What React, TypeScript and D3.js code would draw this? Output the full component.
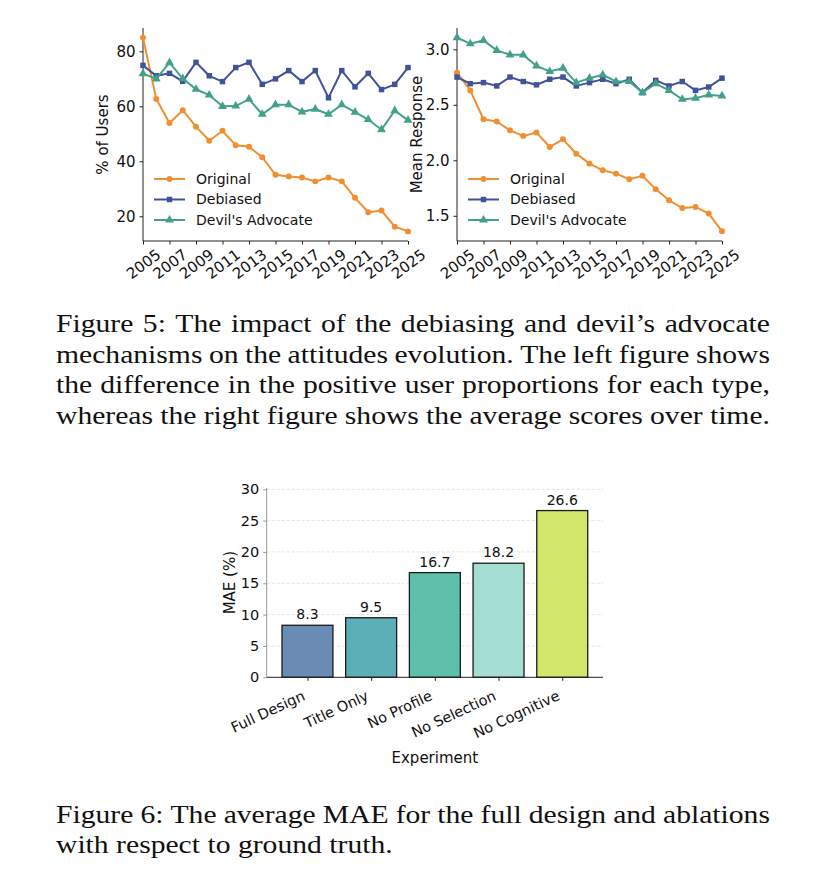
import { useEffect, useRef } from 'react';
import * as d3 from 'd3';

// Figure 5 data (years on x)
const YEARS = [2005, 2006, 2007, 2008, 2009, 2010, 2011, 2012, 2013, 2014, 2015, 2016, 2017, 2018, 2019, 2020, 2021, 2022, 2023, 2024, 2025];
const YEAR_TICKS = [2005, 2007, 2009, 2011, 2013, 2015, 2017, 2019, 2021, 2023, 2025];
const SERIES_NAMES = ['Original', 'Debiased', "Devil's Advocate"];

const USERS_ORIGINAL = [85, 62.7, 53.9, 58.6, 52.6, 47.5, 51.1, 45.8, 45.3, 41.5, 35.1, 34.5, 34.1, 32.7, 34.1, 32.7, 26.7, 21.5, 22.1, 16.2, 14.5];
const USERS_DEBIASED = [74.9, 71.1, 72.0, 69.1, 76.0, 71.1, 69.0, 74.1, 76.0, 68.0, 70.0, 73.0, 69.0, 73.0, 63.1, 73.0, 67.1, 72.0, 66.1, 68.0, 74.1];
const USERS_DEVIL = [71.9, 70.0, 75.9, 70.1, 66.2, 64.1, 60.0, 60.1, 62.6, 57.1, 60.6, 60.6, 58.0, 59.0, 57.1, 60.6, 57.9, 55.2, 51.5, 58.4, 55.0];
const USERS_TICKS = [20, 40, 60, 80];

const RESP_ORIGINAL = [2.79, 2.63, 2.37, 2.35, 2.27, 2.22, 2.25, 2.12, 2.19, 2.06, 1.97, 1.91, 1.88, 1.83, 1.86, 1.74, 1.64, 1.57, 1.58, 1.52, 1.36];
const RESP_DEBIASED = [2.75, 2.69, 2.70, 2.67, 2.75, 2.71, 2.68, 2.73, 2.75, 2.67, 2.70, 2.73, 2.69, 2.73, 2.61, 2.72, 2.67, 2.71, 2.63, 2.66, 2.74];
const RESP_DEVIL = [3.105, 3.05, 3.08, 2.99, 2.95, 2.95, 2.85, 2.80, 2.83, 2.70, 2.74, 2.77, 2.71, 2.71, 2.61, 2.69, 2.63, 2.55, 2.56, 2.59, 2.58];
const RESP_TICKS = [1.5, 2.0, 2.5, 3.0];

// Figure 6 data
const EXPERIMENTS = ['Full Design', 'Title Only', 'No Profile', 'No Selection', 'No Cognitive'];
const MAE = [8.3, 9.5, 16.7, 18.2, 26.6];
const MAE_TICKS = [0, 5, 10, 15, 20, 25, 30];

const CAPTION_5 = [
  'Figure 5: The impact of the debiasing and devil\u2019s advocate',
  'mechanisms on the attitudes evolution. The left figure shows',
  'the difference in the positive user proportions for each type,',
  'whereas the right figure shows the average scores over time.',
];
const CAPTION_6 = [
  'Figure 6: The average MAE for the full design and ablations',
  'with respect to ground truth.',
];

const COLORS = ['#ef8f32', '#40529a', '#43a18a'];
const BAR_COLORS = ['#6a8cb4', '#5cafb6', '#5ec0ab', '#a4ded3', '#d2e66c'];
const SANS = '"DejaVu Sans", sans-serif';
const SERIF = '"Liberation Serif", "Times New Roman", serif';

type Sel = d3.Selection<SVGGElement, unknown, null, undefined>;

function symbolFor(i: number) {
  if (i === 0) return d3.symbol(d3.symbolCircle, 28)();
  if (i === 1) return d3.symbol(d3.symbolSquare, 30)();
  return d3.symbol(d3.symbolTriangle, 34)();
}

function drawLinePanel(g: Sel, opts: {
  x0: number; x1: number; top: number; bottom: number;
  domain: [number, number]; ticks: number[]; fmt: (d: number) => string;
  label: string; series: number[][]; legendX: number;
}) {
  const x = d3.scaleLinear().domain([YEARS[0], YEARS[YEARS.length - 1]]).range([opts.x0, opts.x1]);
  const y = d3.scaleLinear().domain(opts.domain).range([opts.bottom, opts.top]);

  // axes
  const yAxis = g.append('g').attr('transform', `translate(${opts.x0},0)`)
    .call(d3.axisLeft(y).tickValues(opts.ticks).tickFormat(d => opts.fmt(+d)).tickSize(3.5).tickPadding(4));
  yAxis.selectAll('text').attr('font-family', SANS).attr('font-size', 15).attr('fill', '#111');
  yAxis.select('.domain').attr('d', `M0,${opts.top}V${opts.bottom}`);

  const xAxis = g.append('g').attr('transform', `translate(0,${opts.bottom})`)
    .call(d3.axisBottom(x).tickValues(YEAR_TICKS).tickFormat(d => String(d)).tickSize(3.5));
  xAxis.select('.domain').attr('d', `M${opts.x0},0H${opts.x1}`);
  xAxis.selectAll('.tick text')
    .attr('font-family', SANS).attr('font-size', 15).attr('fill', '#111')
    .attr('text-anchor', 'middle').attr('y', 0).attr('dy', '0.35em')
    .attr('transform', 'translate(0,23) rotate(-37)');
  g.selectAll('.domain, .tick line').attr('stroke', '#222').attr('stroke-width', 1);

  g.append('text')
    .attr('transform', `translate(${opts.x0 - 40},${(opts.top + opts.bottom) / 2}) rotate(-90)`)
    .attr('text-anchor', 'middle').attr('dy', '0.35em')
    .attr('font-family', SANS).attr('font-size', 15).attr('fill', '#111')
    .text(opts.label);

  const line = d3.line<number>().x((_, i) => x(YEARS[i])).y(d => y(d));
  opts.series.forEach((vals, si) => {
    g.append('path').attr('d', line(vals)).attr('fill', 'none')
      .attr('stroke', COLORS[si]).attr('stroke-width', 2);
    g.selectAll(null).data(vals).enter().append('path')
      .attr('d', symbolFor(si))
      .attr('transform', (d, i) => `translate(${x(YEARS[i])},${y(d)})`)
      .attr('fill', COLORS[si]);
  });

  // legend
  SERIES_NAMES.forEach((name, i) => {
    const ly = 179 + i * 20.5;
    g.append('line').attr('x1', opts.legendX).attr('x2', opts.legendX + 31)
      .attr('y1', ly).attr('y2', ly).attr('stroke', COLORS[i]).attr('stroke-width', 2);
    g.append('path').attr('d', symbolFor(i))
      .attr('transform', `translate(${opts.legendX + 15.5},${ly})`).attr('fill', COLORS[i]);
    g.append('text').attr('x', opts.legendX + 42).attr('y', ly).attr('dy', '0.35em')
      .attr('font-family', SANS).attr('font-size', 14).attr('fill', '#111').text(name);
  });
}

function drawBars(g: Sel) {
  const x0 = 266.7, x1 = 603, top = 488, bottom = 677.3;
  const x = d3.scaleLinear().domain([-0.64, EXPERIMENTS.length - 1 + 0.64]).range([x0, x1]);
  const y = d3.scaleLinear().domain([0, 30.2]).range([bottom, top]);

  // grid
  g.append('g').selectAll('line').data(MAE_TICKS.slice(1)).enter().append('line')
    .attr('x1', x0).attr('x2', x1).attr('y1', d => y(d)).attr('y2', d => y(d))
    .attr('stroke', '#dcdcdc').attr('stroke-width', 0.8).attr('stroke-dasharray', '3,2');

  g.selectAll(null).data(MAE).enter().append('rect')
    .attr('x', (_, i) => x(i - 0.4)).attr('width', x(0.8) - x(0))
    .attr('y', d => y(d)).attr('height', d => bottom - y(d))
    .attr('fill', (_, i) => BAR_COLORS[i]).attr('stroke', '#1a1a1a').attr('stroke-width', 1.3);

  g.selectAll(null).data(MAE).enter().append('text')
    .attr('x', (_, i) => x(i)).attr('y', d => y(d) - 6)
    .attr('text-anchor', 'middle').attr('font-family', SANS).attr('font-size', 14).attr('fill', '#111')
    .text(d => d.toFixed(1));

  const yAxis = g.append('g').attr('transform', `translate(${x0},0)`)
    .call(d3.axisLeft(y).tickValues(MAE_TICKS).tickSize(3.5).tickPadding(4));
  yAxis.selectAll('text').attr('font-family', SANS).attr('font-size', 14.5).attr('fill', '#111');
  yAxis.select('.domain').attr('d', `M0,${top}V${bottom}`).attr('stroke', '#999');
  yAxis.selectAll('.tick line').attr('stroke', '#999');

  const xAxis = g.append('g').attr('transform', `translate(0,${bottom})`)
    .call(d3.axisBottom(x).tickValues(EXPERIMENTS.map((_, i) => i)).tickFormat(d => EXPERIMENTS[+d]).tickSize(3.5));
  xAxis.select('.domain').attr('d', `M${x0},0H${x1}`).attr('stroke', '#222');
  xAxis.selectAll('.tick line').attr('stroke', '#222');
  xAxis.selectAll('.tick text')
    .attr('font-family', SANS).attr('font-size', 14.5).attr('fill', '#111')
    .attr('text-anchor', 'end').attr('y', 0).attr('dy', 0)
    .attr('transform', 'translate(-2,22) rotate(-25)');

  g.append('text')
    .attr('transform', `translate(${x0 - 37},${(top + bottom) / 2}) rotate(-90)`)
    .attr('text-anchor', 'middle').attr('dy', '0.35em')
    .attr('font-family', SANS).attr('font-size', 15).attr('fill', '#111').text('MAE (%)');
  g.append('text').attr('x', (x0 + x1) / 2).attr('y', 763)
    .attr('text-anchor', 'middle').attr('font-family', SANS).attr('font-size', 15).attr('fill', '#111')
    .text('Experiment');
}

// caption text in the picture is wider than it is tall, so it is stretched horizontally
const CAP_SIZE = 26;
const CAP_STRETCH = 1.14;

function drawCaption(g: Sel, lines: string[], firstBaseline: number, step: number, justifyCount: number) {
  const left = 56, right = 770;
  lines.forEach((ln, li) => {
    const by = firstBaseline + li * step;
    const words = ln.split(' ');
    const lg = g.append('g');
    const nodes = words.map(w => lg.append('text').attr('x', 0).attr('y', 0)
      .attr('font-family', SERIF).attr('font-size', CAP_SIZE).attr('fill', '#111').text(w));
    const widths = nodes.map(n => (n.node() as SVGTextElement).getComputedTextLength() * CAP_STRETCH);
    const total = d3.sum(widths);
    const gap = li < justifyCount && words.length > 1
      ? (right - left - total) / (words.length - 1)
      : CAP_SIZE * 0.25 * CAP_STRETCH;
    let cx = left;
    nodes.forEach((n, i) => {
      n.attr('transform', `translate(${cx},${by}) scale(${CAP_STRETCH},1)`);
      cx += widths[i] + gap;
    });
  });
}

export default function App() {
  const ref = useRef<SVGSVGElement>(null);

  useEffect(() => {
    if (!ref.current) return;
    const svg = d3.select(ref.current);
    svg.selectAll('*').remove();
    const g = svg.append('g') as Sel;

    drawLinePanel(g, {
      x0: 143, x1: 408, top: 28, bottom: 241, domain: [11.0, 88.5], ticks: USERS_TICKS,
      fmt: d => String(d), label: '% of Users',
      series: [USERS_ORIGINAL, USERS_DEBIASED, USERS_DEVIL], legendX: 154,
    });
    drawLinePanel(g, {
      x0: 457, x1: 722, top: 28, bottom: 241, domain: [1.273, 3.192], ticks: RESP_TICKS,
      fmt: d => d.toFixed(1), label: 'Mean Response',
      series: [RESP_ORIGINAL, RESP_DEBIASED, RESP_DEVIL], legendX: 468,
    });
    drawCaption(g, CAPTION_5, 332, 30.5, 4);
    drawBars(g);
    drawCaption(g, CAPTION_6, 823, 30.3, 1);
  }, []);

  return (
    <svg ref={ref} width={827} height={896}
      style={{ position: 'absolute', left: 0, top: 0, background: '#fff' }} />
  );
}
